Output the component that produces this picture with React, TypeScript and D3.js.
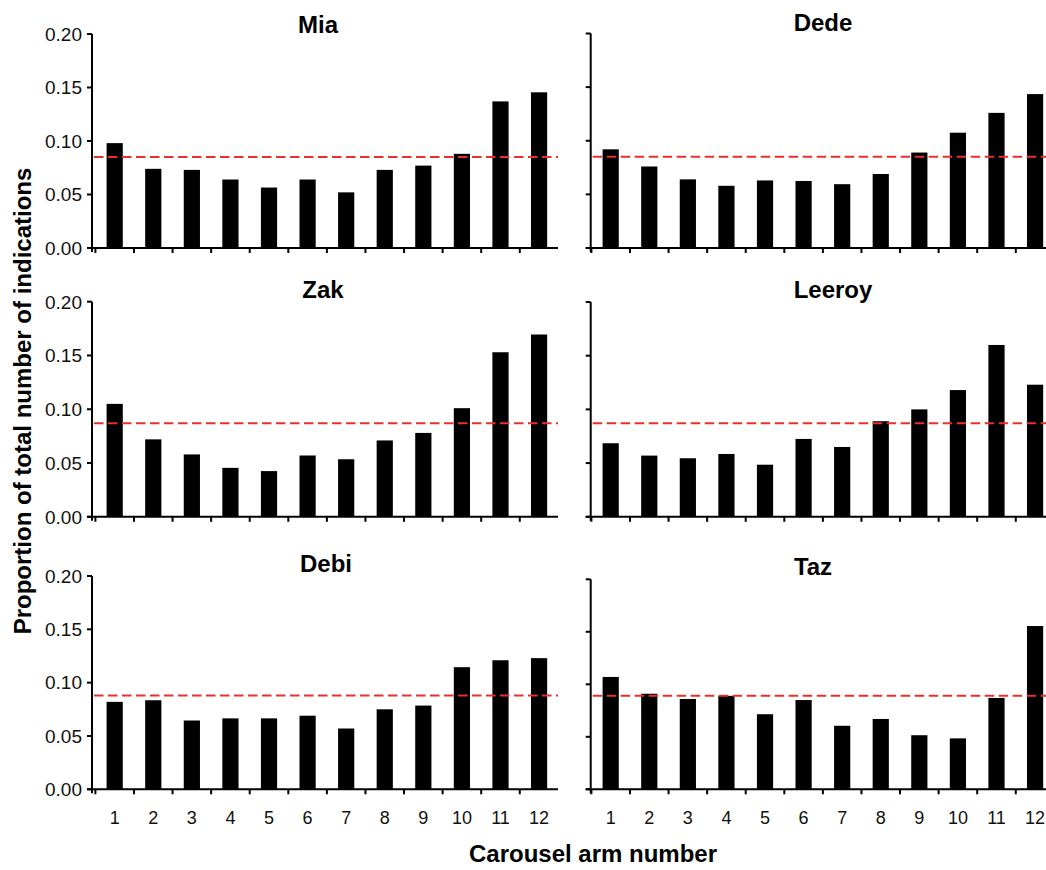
import React, { useEffect, useRef } from "react";
import * as d3 from "d3";

// ---- data ----
const arms = ["1", "2", "3", "4", "5", "6", "7", "8", "9", "10", "11", "12"];
const subjects = ["Mia", "Dede", "Zak", "Leeroy", "Debi", "Taz"];
const mia = [0.098, 0.074, 0.073, 0.064, 0.0565, 0.064, 0.052, 0.073, 0.077, 0.088, 0.137, 0.1455];
const dede = [0.092, 0.076, 0.064, 0.058, 0.063, 0.0625, 0.0595, 0.069, 0.089, 0.1075, 0.126, 0.1435];
const zak = [0.105, 0.072, 0.058, 0.0455, 0.0425, 0.057, 0.0535, 0.071, 0.078, 0.101, 0.153, 0.1695];
const leeroy = [0.0685, 0.057, 0.0545, 0.0585, 0.0485, 0.0725, 0.065, 0.089, 0.100, 0.118, 0.160, 0.123];
const debi = [0.082, 0.0835, 0.0645, 0.0665, 0.0665, 0.069, 0.057, 0.075, 0.0785, 0.1145, 0.121, 0.123];
const taz = [0.107, 0.091, 0.086, 0.089, 0.0715, 0.085, 0.0605, 0.067, 0.0515, 0.0485, 0.087, 0.1555];
const seriesValues = [mia, dede, zak, leeroy, debi, taz];
const chanceLevel = [0.085, 0.085, 0.087, 0.087, 0.088, 0.089];
const yTicks = [0, 0.05, 0.1, 0.15, 0.2];
const yMax = 0.2;
const yAxisTitle = "Proportion of total number of indications";
const xAxisTitle = "Carousel arm number";

const W = 1046;
const H = 870;
const FONT = "'Liberation Sans', Arial, Helvetica, sans-serif";

export default function App() {
  const ref = useRef<SVGSVGElement | null>(null);

  useEffect(() => {
    const svg = d3.select(ref.current);
    svg.selectAll("*").remove();

    const colAxisX = [92, 590.7];
    const colBandStart = [95.4, 591.4];
    const colEnd = [558, 1054];
    const rowBottom = [248, 516.8, 789.3];
    const panelTop = [34, 33.5, 301.7, 302, 576, 579.3];
    const titleX = [318, 823, 323, 833, 326, 813];
    const titleBase = [33, 31, 298, 298, 572, 575];

    subjects.forEach((name, i) => {
      const col = i % 2;
      const row = Math.floor(i / 2);
      const values = seriesValues[i];
      const ax = colAxisX[col];
      const bottom = rowBottom[row];
      const top = panelTop[i];
      const step = 38.58;
      const x = d3
        .scaleBand<string>()
        .domain(arms)
        .range([colBandStart[col], colBandStart[col] + step * arms.length])
        .paddingInner(0.58)
        .paddingOuter(0.29);
      const y = d3.scaleLinear().domain([0, yMax]).range([bottom, top]);
      const g = svg.append("g");

      // bars
      g.selectAll("rect.bar")
        .data(values)
        .join("rect")
        .attr("class", "bar")
        .attr("x", (_d, k) => x(arms[k]) as number)
        .attr("width", x.bandwidth())
        .attr("y", (d) => y(d))
        .attr("height", (d) => y(0) - y(d))
        .attr("fill", "#000");

      // chance line
      g.append("line")
        .attr("x1", ax + 2)
        .attr("x2", colEnd[col])
        .attr("y1", y(chanceLevel[i]))
        .attr("y2", y(chanceLevel[i]))
        .attr("stroke", "#e8302e")
        .attr("stroke-width", 2)
        .attr("stroke-dasharray", "9.5,4.5");

      // y axis line
      g.append("line")
        .attr("x1", ax)
        .attr("x2", ax)
        .attr("y1", top)
        .attr("y2", bottom + 4)
        .attr("stroke", "#000")
        .attr("stroke-width", 2);
      // y ticks
      g.selectAll("line.yt")
        .data(yTicks)
        .join("line")
        .attr("class", "yt")
        .attr("x1", ax - 5)
        .attr("x2", ax)
        .attr("y1", (d) => y(d))
        .attr("y2", (d) => y(d))
        .attr("stroke", "#000")
        .attr("stroke-width", 2);
      if (col === 0) {
        g.selectAll("text.yl")
          .data(yTicks)
          .join("text")
          .attr("class", "yl")
          .attr("x", ax - 10)
          .attr("y", (d) => y(d))
          .attr("dy", "0.36em")
          .attr("text-anchor", "end")
          .attr("font-family", FONT)
          .attr("font-size", 19)
          .attr("fill", "#111")
          .text((d) => d3.format(".2f")(d));
      }

      // x axis line
      g.append("line")
        .attr("x1", ax - 5)
        .attr("x2", colEnd[col])
        .attr("y1", bottom)
        .attr("y2", bottom)
        .attr("stroke", "#000")
        .attr("stroke-width", 2);
      // x ticks at band boundaries
      const bounds = arms.map((a) => (x(a) as number) - (x.step() * x.paddingInner()) / 2);
      g.selectAll("line.xt")
        .data(bounds)
        .join("line")
        .attr("class", "xt")
        .attr("x1", (d) => d)
        .attr("x2", (d) => d)
        .attr("y1", bottom)
        .attr("y2", bottom + 5)
        .attr("stroke", "#000")
        .attr("stroke-width", 2);

      if (row === 2) {
        g.selectAll("text.xl")
          .data(arms)
          .join("text")
          .attr("class", "xl")
          .attr("x", (d) => (x(d) as number) + x.bandwidth() / 2)
          .attr("y", bottom + 35)
          .attr("text-anchor", "middle")
          .attr("font-family", FONT)
          .attr("font-size", 18)
          .attr("fill", "#111")
          .text((d) => d);
      }

      // panel title
      g.append("text")
        .attr("x", titleX[i])
        .attr("y", titleBase[i])
        .attr("text-anchor", "middle")
        .attr("font-family", FONT)
        .attr("font-weight", "bold")
        .attr("font-size", 24)
        .attr("fill", "#000")
        .text(name);
    });

    // axis titles
    svg
      .append("text")
      .attr("transform", `translate(31,401) rotate(-90)`)
      .attr("text-anchor", "middle")
      .attr("font-family", FONT)
      .attr("font-weight", "bold")
      .attr("font-size", 24)
      .attr("fill", "#000")
      .text(yAxisTitle);
    svg
      .append("text")
      .attr("x", 593)
      .attr("y", 862)
      .attr("text-anchor", "middle")
      .attr("font-family", FONT)
      .attr("font-weight", "bold")
      .attr("font-size", 24)
      .attr("fill", "#000")
      .text(xAxisTitle);
  }, []);

  return (
    <svg
      ref={ref}
      width={W}
      height={H}
      viewBox={`0 0 ${W} ${H}`}
      style={{ position: "absolute", left: 0, top: 0, display: "block", background: "#fff" }}
    />
  );
}
